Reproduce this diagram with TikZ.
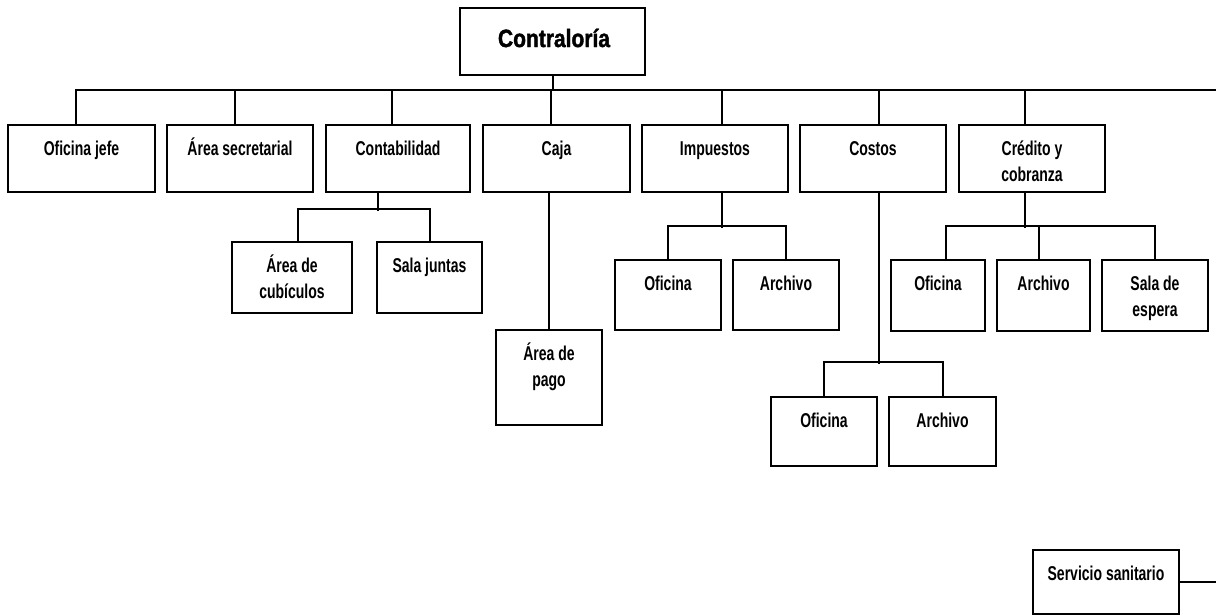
\documentclass[tikz,border=0pt]{standalone}
\usepackage{fontspec}
\setmainfont{Liberation Sans Bold}[FakeStretch=0.70]
\newfontfamily\headfont{Liberation Sans Bold}[FakeStretch=0.84, FakeBold=1.5]

\tikzset{
  box/.style={draw=black, line width=2bp, rectangle, inner sep=0pt, fill=white},
  lab/.style={anchor=north, yshift=-11bp, inner sep=0pt, align=center,
    font=\fontsize{20bp}{26bp}\selectfont},
  conn/.style={draw=black, line width=2bp}
}

% \orgbox{name}{x1}{x2}{y1}{y2}{text}: framed unit with its label near the top
\newcommand\orgbox[6]{%
  \node[box, minimum width={(#3-#2)*1bp}, minimum height={(#5-#4)*1bp}]
    (#1) at ({(#2+#3)/2},{(#4+#5)/2}) {};
  \node[lab] (#1-t) at (#1.north) {\rule{0pt}{20bp}#6};
}

\begin{document}
\begin{tikzpicture}[x=1bp,y=-1bp]
\useasboundingbox (0,0) rectangle (1216,616);

% head unit
\node[box, minimum width=185bp, minimum height=67bp] (top) at (552.5,41.5) {};
\node[anchor=center, inner sep=0pt, font=\headfont\fontsize{25bp}{30bp}\selectfont]
  (top-t) at (554,38) {Contraloría};

% first level
\orgbox{ofj}{8}{155}{125}{192}{Oficina jefe}
\orgbox{asec}{167}{313}{125}{192}{Área secretarial}
\orgbox{cont}{326}{470}{125}{192}{Contabilidad}
\orgbox{caja}{483}{630}{125}{192}{Caja}
\orgbox{imp}{642}{788}{125}{192}{Impuestos}
\orgbox{cost}{800}{946}{125}{192}{Costos}
\orgbox{cred}{959}{1105}{125}{192}{Crédito y\\cobranza}

% second level
\orgbox{cubi}{232}{352}{242}{313}{Área de\\cubículos}
\orgbox{sala}{377}{482}{242}{313}{Sala juntas}
\orgbox{pago}{496}{602}{330}{425}{Área de\\pago}
\orgbox{iofi}{615}{721}{260}{330}{Oficina}
\orgbox{iarc}{733}{839}{260}{330}{Archivo}
\orgbox{cofi}{771}{877}{397}{466}{Oficina}
\orgbox{carc}{889}{996}{397}{466}{Archivo}
\orgbox{kofi}{891}{985}{260}{331}{Oficina}
\orgbox{karc}{997}{1090}{260}{331}{Archivo}
\orgbox{kesp}{1102}{1208}{260}{331}{Sala de\\espera}

\orgbox{serv}{1033}{1179}{550}{614}{Servicio sanitario}

\coordinate (busR) at (1216,90);
\coordinate (edgeR) at (1216,585);

% main bus and drops to the first level
\draw[conn] (top.south) -- ++(0,15);
\draw[conn] (ofj.north) ++(-5.5,0) |- (busR);
\draw[conn] (asec.north) ++(-5,0) -- ++(0,-35);
\draw[conn] (cont.north) ++(-6,0) -- ++(0,-35);
\draw[conn] (caja.north) ++(-5.5,0) -- ++(0,-35);
\draw[conn] (imp.north) ++(7,0) -- ++(0,-35);
\draw[conn] (cost.north) ++(6,0) -- ++(0,-35);
\draw[conn] (cred.north) ++(-7,0) -- ++(0,-35);

% Contabilidad
\draw[conn] (cont.south) ++(-20,0) -- ++(0,18);
\draw[conn] (cubi.north) ++(6,0) -- ++(0,-32) -| (sala.north);

% Caja
\draw[conn] (caja.south) ++(-7.5,0) -- (pago.north);

% Impuestos
\draw[conn] (imp.south) ++(7,0) -- ++(0,35);
\draw[conn] (iofi.north) -- ++(0,-33) -| (iarc.north);

% Costos
\draw[conn] (cost.south) ++(6,0) -- ++(0,171);
\draw[conn] (cofi.north) -- ++(0,-34) -| (carc.north);

% Crédito y cobranza
\draw[conn] (cred.south) ++(-7,0) -- ++(0,35);
\draw[conn] (kofi.north) ++(8,0) -- ++(0,-33) -| (kesp.north);
\draw[conn] (karc.north) ++(-5,0) -- ++(0,-33);

% Servicio sanitario
\draw[conn] (serv.east) -- (serv.east -| edgeR);
\end{tikzpicture}
\end{document}
